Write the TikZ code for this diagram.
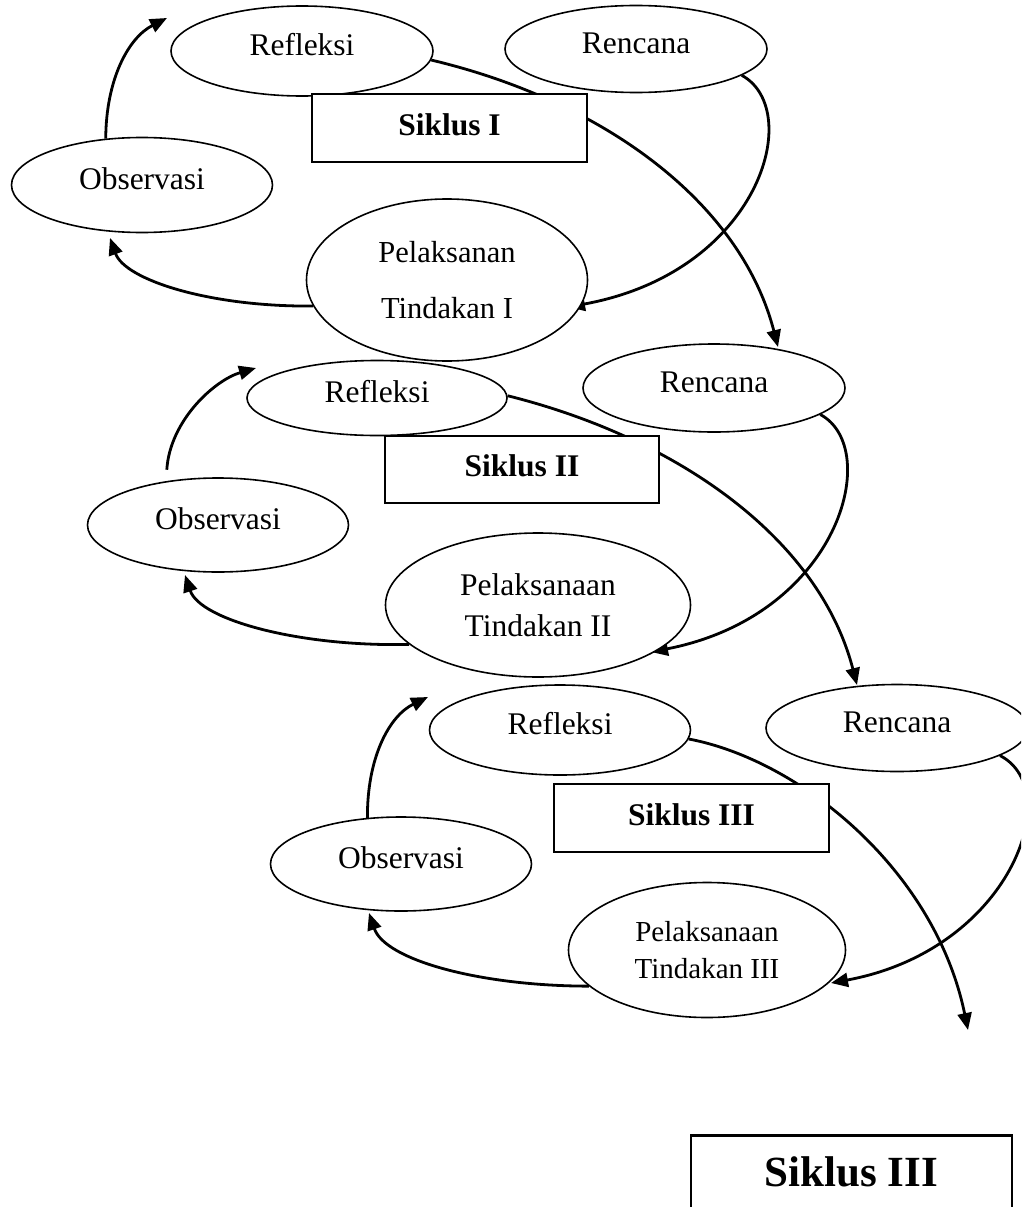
\documentclass[tikz,border=0pt]{standalone}
\usepackage{fontspec}
\setmainfont{Liberation Serif}
\usetikzlibrary{shapes.geometric,arrows.meta,backgrounds}
\begin{document}
\begin{tikzpicture}[x=1pt,y=-1pt,
  ell/.style={ellipse,draw,line width=1.6pt,fill=white,inner sep=0pt,
    font=\fontsize{31.5}{38}\selectfont,text height=21pt,text depth=12pt},
  pel/.style={ellipse,draw,line width=1.6pt,fill=white,inner sep=0pt,align=center},
  sbox/.style={rectangle,draw,line width=1.5pt,fill=white,inner sep=0pt,
    font=\bfseries\fontsize{31.5}{38}\selectfont,text height=21pt,text depth=7pt},
  flow/.style={line width=2.8pt,-{Triangle[length=17pt,width=14pt]}}]
\useasboundingbox (0,0) rectangle (1021,1207);
\clip (0,0) rectangle (1021,1207);

% Cycle I
\node[ell,minimum width=262pt,minimum height=90pt] (ref1) at (302,51) {Refleksi};
\node[ell,minimum width=262pt,minimum height=87pt] (ren1) at (636,49) {Rencana};
\node[sbox,minimum width=275pt,minimum height=68pt] (sik1) at (449.5,128) {Siklus I};
\node[ell,minimum width=261pt,minimum height=95pt] (obs1) at (142,185) {Observasi};
\node[pel,minimum width=281pt,minimum height=162pt,font=\fontsize{30.5}{56}\selectfont] (pel1) at (447,280) {Pelaksanan\\Tindakan I};

% Cycle II
\node[ell,minimum width=260pt,minimum height=75pt] (ref2) at (377,398) {Refleksi};
\node[ell,minimum width=262pt,minimum height=88pt] (ren2) at (714,388) {Rencana};
\node[sbox,minimum width=274pt,minimum height=67pt] (sik2) at (522,469.5) {Siklus II};
\node[ell,minimum width=261pt,minimum height=94pt] (obs2) at (218,525) {Observasi};
\node[pel,minimum width=305pt,minimum height=144pt,font=\fontsize{31.5}{41}\selectfont] (pel2) at (538,605) {Pelaksanaan\\Tindakan II};

% Cycle III
\node[ell,minimum width=261pt,minimum height=90pt] (ref3) at (560,730) {Refleksi};
\node[ell,minimum width=262pt,minimum height=87pt] (ren3) at (897,728) {Rencana};
\node[sbox,minimum width=275pt,minimum height=68pt] (sik3) at (691.5,818) {Siklus III};
\node[ell,minimum width=261pt,minimum height=94pt] (obs3) at (401,864) {Observasi};
\node[pel,minimum width=277pt,minimum height=135pt,font=\fontsize{29}{37}\selectfont] (pel3) at (707,950) {Pelaksanaan\\Tindakan III};

% Final box
\node[rectangle,draw,line width=2.8pt,inner sep=0pt,minimum width=321pt,
  text height=51pt,text depth=55pt,anchor=north,
  font=\bfseries\fontsize{43}{50}\selectfont] (fin) at (851.5,1134) {Siklus III};

% arrow tips
\coordinate (a1) at (167,18);
\coordinate (a2) at (256,368);
\coordinate (a3) at (428,697);
\coordinate (b1) at (110,238);
\coordinate (b2) at (185,575);
\coordinate (b3) at (369,913);
\coordinate (c1) at (568,307);
\coordinate (c2) at (651,652);
\coordinate (c3) at (831,983);
\coordinate (d1) at (778,347);
\coordinate (d2) at (857,685);
\coordinate (d3) at (968,1030);

\begin{pgfonlayer}{background}
\clip (0,0) rectangle (1021,1207);
% cycle I
\draw[flow] (obs1.128.7) .. controls (106,80) and (128,38) .. (a1);
\draw[flow] (pel1.191.4) .. controls (210,307) and (125,280) .. (b1);
\draw[flow] (ren1.346.3) .. controls (805,110) and (760,272) .. (c1);
\draw[flow] (ref1.356.9) .. controls (600,100) and (740,200) .. (d1);
% cycle II
\draw[flow] ([shift={(-9,-10)}]obs2.133) .. controls (170,420) and (215,380) .. (a2);
\draw[flow] (pel2.197.8) .. controls (300,647) and (200,620) .. (b2);
\draw[flow] (ren2.346.7) .. controls (883,448) and (840,615) .. (c2);
\draw[flow] (ref2.1.3) .. controls (677,438) and (819,538) .. (d2);
% cycle III
\draw[flow] (obs3.126.5) .. controls (367,758) and (389,716) .. (a3);
\draw[flow] (pel3.197.1) .. controls (480,986) and (385,960) .. (b3);
\draw[flow] (ren3.345.8) .. controls (1067,790) and (1010,950) .. (c3);
\draw[flow] (ref3.356.5) .. controls (800,760) and (935,870) .. (d3);
\end{pgfonlayer}
\end{tikzpicture}
\end{document}
